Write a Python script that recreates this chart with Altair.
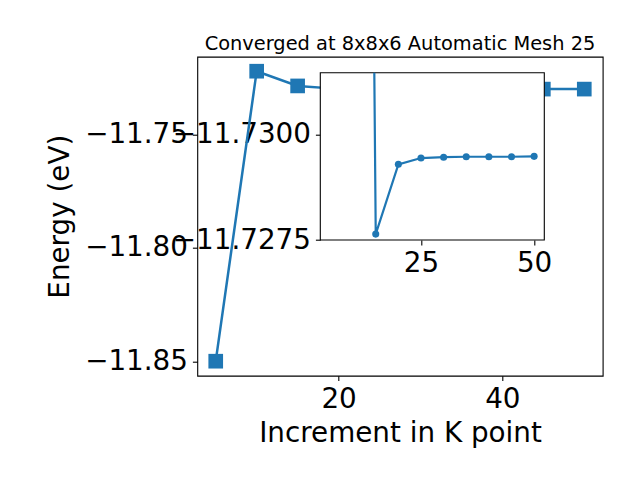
import altair as alt
import pandas as pd

# ---------------- data ----------------
k_main = [5, 10, 15, 20, 25, 30, 35, 40, 45, 50]
e_main = [-11.8500, -11.7220, -11.7285, -11.7298, -11.7299, -11.7299,
          -11.7300, -11.7300, -11.7299, -11.7299]

k_inset = [5, 15, 20, 25, 30, 35, 40, 45, 50]
e_inset = [-11.8500, -11.72764, -11.72930, -11.72945, -11.72947,
           -11.72948, -11.72948, -11.72948, -11.72949]

main_x_ticks = [20, 40]
main_y_ticks = [-11.85, -11.80, -11.75]
inset_x_ticks = [25, 50]
inset_y_ticks = [-11.7300, -11.7275]
inset_y_limits = [-11.73148, -11.7275]

title_text = "Converged at 8x8x6 Automatic Mesh 25"
x_title = "Increment in K point"
y_title = "Energy (eV)"

# ---------------- style / layout ----------------
BLUE = "#1f77b4"
FONT = "DejaVu Sans"
FS = 27.8
W, H = 405.4, 319.0
PAD_L, PAD_T = 189.3, 48.7
INSET_L, INSET_R, INSET_T, INSET_B = 123.0, 347.0, 16.0, 183.3


def margins(vals, frac=0.05):
    lo, hi = min(vals), max(vals)
    d = (hi - lo) * frac
    return [lo - d, hi + d]


main_xdom = margins(k_main)
main_ydom = margins(e_main)
inset_xdom = margins(k_inset)


def clip_polyline(xs, ys, xlim, ylim):
    """Clip a polyline to a rectangle (Liang-Barsky); returns rows with a segment id."""
    rows = []
    seg = 0
    last_end = None
    order = 0
    for i in range(len(xs) - 1):
        x0, y0, x1, y1 = xs[i], ys[i], xs[i + 1], ys[i + 1]
        dx, dy = x1 - x0, y1 - y0
        t0, t1 = 0.0, 1.0
        ok = True
        for p, q in ((-dx, x0 - xlim[0]), (dx, xlim[1] - x0),
                     (-dy, y0 - ylim[0]), (dy, ylim[1] - y0)):
            if p == 0:
                if q < 0:
                    ok = False
                    break
            else:
                r = q / p
                if p < 0:
                    t0 = max(t0, r)
                else:
                    t1 = min(t1, r)
        if not ok or t0 > t1:
            last_end = None
            continue
        a = (x0 + t0 * dx, y0 + t0 * dy)
        b = (x0 + t1 * dx, y0 + t1 * dy)
        if last_end is None or abs(last_end[0] - a[0]) > 1e-12 or abs(last_end[1] - a[1]) > 1e-12:
            seg += 1
            rows.append({"k": a[0], "e": a[1], "seg": seg, "o": order})
            order += 1
        rows.append({"k": b[0], "e": b[1], "seg": seg, "o": order})
        order += 1
        last_end = b
    return pd.DataFrame(rows)


df_main = pd.DataFrame({"k": k_main, "e": e_main})
df_inset_pts = pd.DataFrame({"k": k_inset, "e": e_inset})
df_inset_pts = df_inset_pts[(df_inset_pts.e >= inset_y_limits[0]) &
                            (df_inset_pts.e <= inset_y_limits[1])]
df_inset_line = clip_polyline(k_inset, e_inset, inset_xdom, inset_y_limits)

axis_common = dict(
    labelFont=FONT, labelFontSize=FS, labelColor="black",
    tickColor="black", tickSize=4.9, tickWidth=1.1, labelPadding=4.9,
    grid=False, domain=False, labelFlush=False, labelOverlap=False,
    titleFont=FONT, titleFontSize=FS, titleFontWeight="normal", titleColor="black",
)

# ---------------- main plot ----------------
mx = alt.X("k:Q", scale=alt.Scale(domain=main_xdom, nice=False, zero=False),
           axis=alt.Axis(values=main_x_ticks, format="d", title=x_title,
                         orient="bottom", titlePadding=6, **axis_common))
my = alt.Y("e:Q", scale=alt.Scale(domain=main_ydom, nice=False, zero=False),
           axis=alt.Axis(values=main_y_ticks, format=".2f", title=y_title,
                         orient="left", titlePadding=10, **axis_common))

main_line = alt.Chart(df_main).mark_line(color=BLUE, strokeWidth=2.5).encode(x=mx, y=my)
main_pts = alt.Chart(df_main).mark_point(shape="square", filled=True, size=215,
                                         color=BLUE, opacity=1).encode(x=mx, y=my)
main = alt.layer(main_line, main_pts)

# ---------------- inset frame ----------------
frame = alt.Chart(pd.DataFrame({"a": [0]})).mark_rect(
    fill="white", stroke="black", strokeWidth=1.1
).encode(x=alt.value(INSET_L), x2=alt.value(INSET_R),
         y=alt.value(INSET_T), y2=alt.value(INSET_B))

# ---------------- inset plot ----------------
ix = alt.X("k:Q", scale=alt.Scale(domain=inset_xdom, range=[INSET_L, INSET_R],
                                  nice=False, zero=False),
           axis=alt.Axis(values=inset_x_ticks, format="d", title=None,
                         orient="bottom", offset=-(H - INSET_B), **axis_common))
iy = alt.Y("e:Q", scale=alt.Scale(domain=inset_y_limits, range=[INSET_T, INSET_B],
                                  nice=False, zero=False),
           axis=alt.Axis(values=inset_y_ticks, format=".4f", title=None,
                         orient="left", offset=-INSET_L, **axis_common))

inset_line = alt.Chart(df_inset_line).mark_line(color=BLUE, strokeWidth=2.2).encode(
    x=ix, y=iy, detail="seg:N", order="o:Q")
inset_pts = alt.Chart(df_inset_pts).mark_circle(size=50, color=BLUE, opacity=1).encode(
    x=ix, y=iy)
inset = alt.layer(inset_line, inset_pts)

chart = alt.layer(main, frame, inset).resolve_scale(
    x="independent", y="independent"
).resolve_axis(x="independent", y="independent").properties(
    width=W, height=H,
    title=alt.TitleParams(text=title_text, font=FONT, fontSize=19.4,
                          fontWeight="normal", color="black", anchor="middle",
                          baseline="alphabetic", frame="group", offset=-13),
    autosize=alt.AutoSizeParams(type="none"),
    padding={"left": PAD_L, "top": PAD_T, "right": 640 - 16 - PAD_L - W,
             "bottom": 480 - 16 - PAD_T - H},
).configure(background="white").configure_view(stroke="black", strokeWidth=1.1)

chart.save("out.html", embed_options={"renderer": "svg", "actions": False})
